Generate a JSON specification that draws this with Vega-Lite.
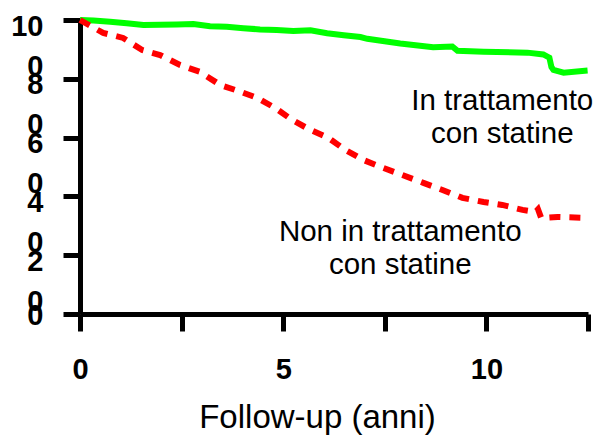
{
  "$schema": "https://vega.github.io/schema/vega-lite/v6.json",
  "width": 508,
  "height": 294,
  "autosize": {"type": "none"},
  "padding": {"left": 80, "top": 20, "right": 11, "bottom": 133},
  "background": "white",
  "config": {"view": {"stroke": null}, "font": "Liberation Sans"},
  "datasets": {
    "treated": [
      {"t": 0, "v": 100}, {"t": 0.33, "v": 99.8}, {"t": 0.74, "v": 99.4}, {"t": 1.15, "v": 98.9},
      {"t": 1.56, "v": 98.3}, {"t": 2.38, "v": 98.5}, {"t": 2.79, "v": 98.6}, {"t": 3.2, "v": 97.9},
      {"t": 3.61, "v": 97.7}, {"t": 4.02, "v": 97.2}, {"t": 4.43, "v": 96.8}, {"t": 4.84, "v": 96.6},
      {"t": 5.25, "v": 96.3}, {"t": 5.67, "v": 96.5}, {"t": 6.08, "v": 95.5}, {"t": 6.49, "v": 94.8},
      {"t": 6.9, "v": 94.2}, {"t": 7.07, "v": 93.6}, {"t": 7.88, "v": 92.0}, {"t": 8.69, "v": 90.7},
      {"t": 9.16, "v": 91.0}, {"t": 9.29, "v": 89.5}, {"t": 9.93, "v": 89.2}, {"t": 11.01, "v": 88.9},
      {"t": 11.4, "v": 88.3}, {"t": 11.55, "v": 87.2}, {"t": 11.6, "v": 84.0}, {"t": 11.65, "v": 83.0},
      {"t": 11.9, "v": 82.1}, {"t": 12.49, "v": 82.8}
    ],
    "untreated": [
      {"t": 0, "v": 100}, {"t": 0.57, "v": 95.6}, {"t": 1.06, "v": 93.9}, {"t": 1.53, "v": 89.8},
      {"t": 1.97, "v": 88.1}, {"t": 2.46, "v": 84.7}, {"t": 2.96, "v": 82.3}, {"t": 3.45, "v": 77.9},
      {"t": 3.89, "v": 75.9}, {"t": 4.36, "v": 73.5}, {"t": 4.8, "v": 70.1}, {"t": 5.22, "v": 66.0},
      {"t": 5.67, "v": 62.6}, {"t": 6.11, "v": 59.9}, {"t": 6.53, "v": 55.8}, {"t": 6.97, "v": 52.4},
      {"t": 7.46, "v": 49.7}, {"t": 7.93, "v": 47.3}, {"t": 8.45, "v": 44.6}, {"t": 8.92, "v": 42.2},
      {"t": 9.41, "v": 39.5}, {"t": 9.93, "v": 38.1}, {"t": 10.39, "v": 37.1}, {"t": 10.89, "v": 35.4},
      {"t": 11.21, "v": 34.7}, {"t": 11.27, "v": 35.6}, {"t": 11.35, "v": 32.6}, {"t": 11.75, "v": 33.0},
      {"t": 12.49, "v": 32.7}
    ],
    "notes": [
      {"t": 10.39, "v": 69.4, "label": "In trattamento"},
      {"t": 10.39, "v": 58.2, "label": "con statine"},
      {"t": 7.88, "v": 24.9, "label": "Non in trattamento"},
      {"t": 7.88, "v": 13.6, "label": "con statine"}
    ]
  },
  "encoding": {
    "x": {
      "field": "t", "type": "quantitative",
      "scale": {"domain": [0, 12.5], "nice": false, "zero": false},
      "axis": {
        "values": [0, 2.5, 5, 7.5, 10, 12.5],
        "labelExpr": "datum.value % 5 == 0 ? datum.label : ''",
        "grid": false,
        "domainColor": "black", "domainWidth": 5,
        "tickColor": "black", "tickWidth": 5, "tickSize": 17,
        "labelFont": "Liberation Sans", "labelFontSize": 29, "labelFontWeight": "bold",
        "labelColor": "black", "labelPadding": 24, "labelFlush": false, "labelOverlap": false,
        "title": "Follow-up (anni)",
        "titleFont": "Liberation Sans", "titleFontSize": 33, "titleFontWeight": "normal",
        "titleColor": "black", "titleX": 237, "titleY": 113,
        "titleBaseline": "alphabetic", "titleAlign": "center"
      }
    },
    "y": {
      "field": "v", "type": "quantitative",
      "scale": {"domain": [0, 100], "nice": false},
      "axis": {
        "values": [0, 20, 40, 60, 80, 100],
        "labelExpr": "datum.value == 0 ? '0' : [substring(datum.label, 0, length(datum.label) - 1), '0']",
        "grid": false,
        "domainColor": "black", "domainWidth": 5,
        "tickColor": "black", "tickWidth": 5, "tickSize": 17,
        "labelFont": "Liberation Sans", "labelFontSize": 29, "labelFontWeight": "bold",
        "labelColor": "black", "labelPadding": 20, "labelBaseline": "alphabetic",
        "labelLineHeight": 40,
        "labelOffset": {"condition": {"test": "datum.value == 0", "value": 10}, "value": 15},
        "labelFlush": false, "labelOverlap": false,
        "title": null
      }
    }
  },
  "layer": [
    {
      "data": {"name": "treated"},
      "mark": {"type": "line", "color": "#00ff00", "strokeWidth": 6, "strokeCap": "butt"},
      "encoding": {}
    },
    {
      "data": {"name": "untreated"},
      "mark": {"type": "line", "color": "#ff0000", "strokeWidth": 6, "strokeDash": [11, 9], "strokeCap": "butt"},
      "encoding": {}
    },
    {
      "data": {"name": "notes"},
      "mark": {"type": "text", "font": "Liberation Sans", "fontSize": 29.5, "color": "black", "align": "center", "baseline": "alphabetic"},
      "encoding": {"text": {"field": "label"}}
    }
  ]
}
